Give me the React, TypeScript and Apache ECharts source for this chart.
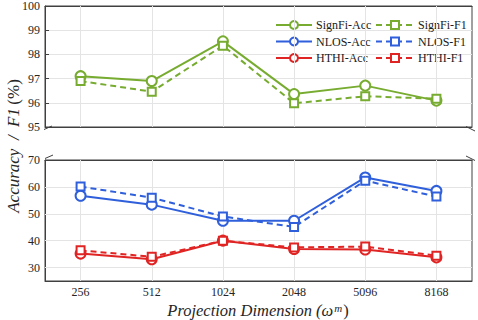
import React, { useEffect, useRef } from "react";
import * as echarts from "echarts";

const categories = ["256", "512", "1024", "2048", "5096", "8168"];
const signfiAcc = [97.1, 96.9, 98.54, 96.36, 96.71, 96.09];
const signfiF1 = [96.9, 96.46, 98.36, 95.98, 96.27, 96.17];
const nlosAcc = [56.7, 53.4, 47.4, 47.4, 63.5, 58.5];
const nlosF1 = [60.1, 56.0, 49.0, 45.1, 62.3, 56.4];
const hthiAcc = [35.2, 33.1, 40.0, 36.9, 36.7, 33.8];
const hthiF1 = [36.4, 34.0, 40.0, 37.5, 37.8, 34.4];
const bottomGridValues = [30, 40, 50, 60];

const GREEN = "#77AC30";
const BLUE = "#2F5FDB";
const RED = "#E02424";
const AX = "#404040";
const GRIDC = "#e4e4e4";
const FONT = "Times New Roman";

export default function App() {
  const ref = useRef<HTMLDivElement>(null);
  useEffect(() => {
    if (!ref.current) return;
    const chart = echarts.init(ref.current, null, { renderer: "svg" });
    const mk = (name: string, data: number[], color: string, f1: boolean, gi: number) => ({
      name,
      type: "line",
      xAxisIndex: gi,
      yAxisIndex: gi,
      data,
      symbol: f1 ? "emptyRect" : "emptyCircle",
      symbolSize: f1 ? 8 : 10,
      z: 5,
      lineStyle: { color, width: 2, type: f1 ? [6, 4] : "solid" },
      itemStyle: { color, borderColor: color, borderWidth: 1.8 },
    });
    const xBase = (gi: number, showLabel: boolean) => ({
      type: "category",
      gridIndex: gi,
      data: categories,
      boundaryGap: true,
      axisLine: { lineStyle: { color: AX } },
      axisTick: { show: true, inside: true, alignWithLabel: true, length: 4, lineStyle: { color: AX } },
      axisLabel: { show: showLabel, color: "#262626", fontFamily: FONT, fontSize: 12, margin: 5 },
      splitLine: { show: false },
    });
    const xTop = (gi: number) => ({
      type: "category",
      gridIndex: gi,
      position: "top",
      data: categories,
      boundaryGap: true,
      axisLine: { lineStyle: { color: AX } },
      axisTick: { show: true, inside: true, alignWithLabel: true, length: 4, lineStyle: { color: AX } },
      axisLabel: { show: false },
      splitLine: { show: false },
    });
    const legendText = { color: "#1a1a1a", fontFamily: FONT, fontSize: 12, padding: [0, 0, 0, -1] };
    const option = {
      animation: false,
      backgroundColor: "#fff",
      grid: [
        { left: 45, top: 6, width: 427, height: 121, show: true, borderColor: AX, borderWidth: 1 },
        { left: 45, top: 160, width: 427, height: 121, show: true, borderColor: AX, borderWidth: 1 },
      ],
      xAxis: [xBase(0, false), xBase(1, true), xTop(0), xTop(1)],
      yAxis: [
        {
          type: "value",
          gridIndex: 0,
          min: 95,
          max: 100,
          interval: 1,
          axisLine: { show: true, lineStyle: { color: AX } },
          axisTick: { show: true, inside: true, length: 4, lineStyle: { color: AX } },
          axisLabel: { color: "#262626", fontFamily: FONT, fontSize: 12, margin: 5 },
          splitLine: { show: true, lineStyle: { color: GRIDC, width: 1 } },
        },
        {
          type: "value",
          gridIndex: 1,
          min: 25,
          max: 70,
          interval: 5,
          axisLine: { show: true, lineStyle: { color: AX } },
          axisTick: { show: false },
          axisLabel: {
            color: "#262626",
            fontFamily: FONT,
            fontSize: 12,
            margin: 5,
            formatter: (v: number) => (v % 10 === 0 ? String(v) : ""),
          },
          splitLine: { show: false },
        },
      ],
      legend: [
        {
          data: ["SignFi-Acc", "NLOS-Acc", "HTHI-Acc"],
          orient: "vertical",
          left: 270,
          top: 14,
          itemWidth: 36,
          itemHeight: 10,
          itemGap: 4.5,
          textStyle: legendText,
        },
        {
          data: ["SignFi-F1", "NLOS-F1", "HTHI-F1"],
          orient: "vertical",
          left: 370,
          top: 14,
          itemWidth: 38,
          itemHeight: 10,
          itemGap: 4.5,
          textStyle: legendText,
        },
      ],
      series: [
        {
          type: "line",
          xAxisIndex: 0,
          yAxisIndex: 0,
          data: [],
          z: 1,
          silent: true,
          markLine: {
            silent: true,
            symbol: ["none", "none"],
            label: { show: false },
            lineStyle: { color: GRIDC, type: "solid", width: 1 },
            data: categories.map((_, i) => ({ xAxis: i })),
          },
        },
        {
          type: "line",
          xAxisIndex: 1,
          yAxisIndex: 1,
          data: [],
          z: 1,
          silent: true,
          markLine: {
            silent: true,
            symbol: ["none", "none"],
            label: { show: false },
            lineStyle: { color: GRIDC, type: "solid", width: 1 },
            data: [
              ...categories.map((_, i) => ({ xAxis: i })),
              ...bottomGridValues.map((v) => ({ yAxis: v })),
            ],
          },
        },
        mk("SignFi-Acc", signfiAcc, GREEN, false, 0),
        mk("SignFi-F1", signfiF1, GREEN, true, 0),
        mk("NLOS-Acc", nlosAcc, BLUE, false, 1),
        mk("NLOS-F1", nlosF1, BLUE, true, 1),
        mk("HTHI-Acc", hthiAcc, RED, false, 1),
        mk("HTHI-F1", hthiF1, RED, true, 1),
      ],
      graphic: [
        {
          type: "text",
          x: 13,
          y: 146,
          rotation: Math.PI / 2,
          style: {
            text: "{i|Accuracy  /  F1} {n|(%)}",
            align: "center",
            verticalAlign: "middle",
            rich: {
              i: { fontFamily: FONT, fontStyle: "italic", fontSize: 17, fill: "#262626" },
              n: { fontFamily: FONT, fontSize: 17, fill: "#262626" },
            },
          },
        },
        {
          type: "text",
          x: 258,
          y: 310.5,
          style: {
            text: "{i|Projection Dimension (ω}{s|m}{n|)}",
            align: "center",
            verticalAlign: "middle",
            rich: {
              i: { fontFamily: FONT, fontStyle: "italic", fontSize: 16.5, lineHeight: 17, fill: "#262626" },
              s: { fontFamily: FONT, fontStyle: "italic", fontSize: 11, lineHeight: 17, fill: "#262626", verticalAlign: "top", padding: [0, 1, 7, 1] },
              n: { fontFamily: FONT, fontSize: 16.5, lineHeight: 17, fill: "#262626" },
            },
          },
        },
        { type: "line", shape: { x1: 44, y1: 129.5, x2: 52, y2: 126 }, style: { stroke: AX, lineWidth: 1 } },
        { type: "line", shape: { x1: 45, y1: 158.5, x2: 53, y2: 155 }, style: { stroke: AX, lineWidth: 1 } },
        { type: "line", shape: { x1: 466, y1: 126.5, x2: 475, y2: 131 }, style: { stroke: AX, lineWidth: 1 } },
        { type: "line", shape: { x1: 466, y1: 156, x2: 475, y2: 160.5 }, style: { stroke: AX, lineWidth: 1 } },
      ],
    };
    chart.setOption(option as any);
    return () => chart.dispose();
  }, []);
  return (
    <div
      ref={ref}
      style={{ position: "fixed", left: 0, top: 0, width: 478, height: 320, background: "#fff" }}
    />
  );
}
